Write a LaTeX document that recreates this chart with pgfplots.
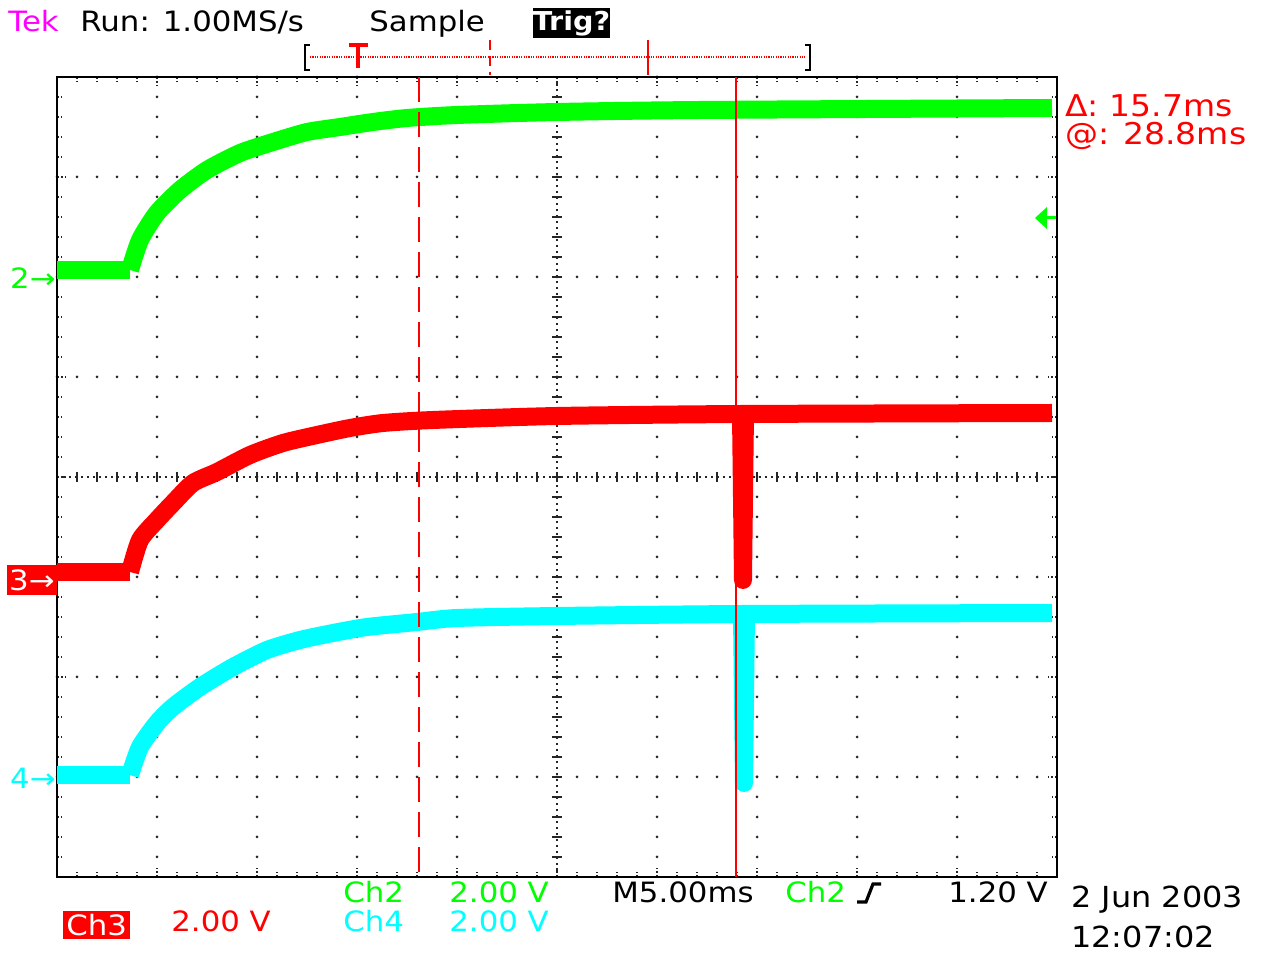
\documentclass[border=0pt]{standalone}
\usepackage{pgfplots}
\pgfplotsset{compat=1.18}
\usepackage{fontspec}
\setmainfont[FakeStretch=1.1]{DejaVu Sans}
\definecolor{scgreen}{RGB}{0,255,0}
\definecolor{scred}{RGB}{255,0,0}
\definecolor{sccyan}{RGB}{0,255,255}
\definecolor{scmag}{RGB}{255,0,255}
\begin{document}
\begin{tikzpicture}[font=\fontsize{14}{16}\selectfont]
\useasboundingbox (0,0) rectangle (633pt,477pt);
% graticule (behind the traces)
\begin{scope}[shift={(0,477pt)}, x=0.5pt, y=-0.5pt]
 \foreach \i in {1,2,3,4,6,7,8,9} {
   \draw[black!85, line width=1.5pt, line cap=round, dash pattern=on 0pt off 10pt] (57+100*\i,77) -- (57+100*\i,877); }
 \foreach \j in {1,2,3,5,6,7} {
   \draw[black!85, line width=1.5pt, line cap=round, dash pattern=on 0pt off 10pt] (57,77+100*\j) -- (1057,77+100*\j); }
 \draw[black!85, line width=1pt, dash pattern=on 1pt off 2pt] (57,477) -- (1057,477);
 \draw[black!85, line width=1pt, dash pattern=on 1pt off 2pt] (557,77) -- (557,877);
 \foreach \i in {1,...,49} { \draw[black!85, line width=1pt] (57+20*\i,472) -- (57+20*\i,482); }
 \foreach \i in {1,...,39} { \draw[black!85, line width=1pt] (552,77+20*\i) -- (562,77+20*\i); }
\end{scope}
\begin{axis}[at={(28.5pt,38.5pt)}, anchor=south west, scale only axis,
  width=500pt, height=400pt,
  xmin=0, xmax=10, ymin=0, ymax=8,
  xtick={0,...,10}, ytick={0,...,8}, xticklabels={}, yticklabels={},
  minor x tick num=4, minor y tick num=4,
  tick align=inside, major tick length=4.5pt, minor tick length=2.5pt,
  tick style={black!85, line width=1.1pt, dash pattern=on 1pt off 1pt},
  axis line style={black, line width=1.4pt, solid},
  every axis plot/.append style={line width=9pt, line join=round, line cap=butt}]
% Ch2 (green)
\addplot[scgreen] coordinates {(0,6.07) (0.73,6.07)};
\addplot[scgreen, smooth, tension=0.4] coordinates {
 (0.73,6.07) (0.83,6.37) (1.00,6.64) (1.23,6.87) (1.50,7.07)
 (1.83,7.24) (2.16,7.35) (2.50,7.45) (2.83,7.50) (3.16,7.55) (3.50,7.59)
 (4.00,7.62) (5.00,7.65) (6.43,7.67) (9.95,7.69)};
% Ch3 (red)
\addplot[scred] coordinates {(0,3.05) (0.73,3.05)};
\addplot[scred, smooth, tension=0.4] coordinates {
 (0.73,3.05) (0.83,3.37) (1.00,3.57) (1.16,3.74) (1.36,3.94)
 (1.60,4.05) (1.93,4.22) (2.26,4.34) (2.60,4.42) (2.93,4.49) (3.26,4.54)
 (3.76,4.57) (5.00,4.61) (6.84,4.63) (9.95,4.64)};
\addplot[scred] coordinates {(6.84,4.63) (6.86,2.97) (6.88,4.63)};
% Ch4 (cyan)
\addplot[sccyan] coordinates {(0,1.02) (0.73,1.02)};
\addplot[sccyan, smooth, tension=0.4] coordinates {
 (0.73,1.02) (0.83,1.30) (1.00,1.54) (1.16,1.70) (1.43,1.90)
 (1.76,2.10) (2.10,2.27) (2.43,2.37) (2.76,2.44) (3.10,2.50) (3.60,2.55)
 (4.00,2.59) (5.00,2.61) (6.85,2.63) (9.95,2.64)};
\addplot[sccyan] coordinates {(6.85,2.63) (6.87,0.94) (6.89,2.63)};
\end{axis}
\begin{scope}[shift={(0,477pt)}, x=0.5pt, y=-0.5pt]
 % cursors
 \draw[scred, line width=1pt, dash pattern=on 12.5pt off 5pt] (419,77) -- (419,877);
 \draw[scred, line width=1pt] (736,77) -- (736,877);
 % header
 \node[anchor=base west, text=scmag, inner sep=0] at (8,32) {Tek};
 \node[anchor=base west, inner sep=0] at (80,32) {Run: 1.00MS/s};
 \node[anchor=base west, inner sep=0] at (369,32) {Sample};
 \node[fill=black, text=white, inner sep=0, minimum width=38.5pt, minimum height=15pt, font=\fontsize{13}{13}\selectfont\bfseries] at (571.5,23) {Trig?};
 % record ruler
 \draw[black, line width=1.4pt] (310,45) -- (305,45) -- (305,70) -- (310,70);
 \draw[black, line width=1.4pt] (805,45) -- (810,45) -- (810,70) -- (805,70);
 \draw[scred, line width=0.6pt, dash pattern=on 0.6pt off 0.6pt] (310,57) -- (805,57);
 \draw[scred, line width=1.6pt] (349,45) -- (368,45) (358,45) -- (358,68);
 \draw[scred, line width=1pt, dash pattern=on 5pt off 3pt] (490,40) -- (490,75);
 \draw[scred, line width=1pt] (648,40) -- (648,75);
 % cursor readout
 \node[anchor=base west, text=scred, inner sep=0, font=\fontsize{15}{17}\selectfont] at (1065,117) {Δ: 15.7ms};
 \node[anchor=base west, text=scred, inner sep=0, font=\fontsize{15}{17}\selectfont] at (1065,145) {@: 28.8ms};
 % trigger level arrow
 \draw[scgreen, line width=1.5pt] (1040,218) -- (1056,218);
 \fill[scgreen] (1035,218) -- (1047,207) -- (1047,229) -- cycle;
 % channel markers
 \node[anchor=east, text=scgreen, inner sep=0] at (56,278) {2→};
 \node[anchor=east, fill=scred, text=white, inner sep=1pt, minimum height=15pt, minimum width=22pt] at (57,580) {3→};
 \node[anchor=east, text=sccyan, inner sep=0] at (56,778) {4→};
 % footer
 \node[anchor=base west, text=scgreen, inner sep=0] at (343,903) {Ch2};
 \node[anchor=base west, text=scgreen, inner sep=0] at (449,903) {2.00 V};
 \node[anchor=base west, inner sep=0] at (612,903) {M5.00ms};
 \node[anchor=base west, text=scgreen, inner sep=0] at (785,903) {Ch2};
 \draw[black, line width=1.6pt] (857,902) -- (866,902) -- (873,884) -- (881,884);
 \node[anchor=base west, inner sep=0] at (948,903) {1.20 V};
 \node[anchor=west, fill=scred, text=white, inner sep=1.5pt] at (63,925) {Ch3};
 \node[anchor=base west, text=scred, inner sep=0] at (171,932) {2.00 V};
 \node[anchor=base west, text=sccyan, inner sep=0] at (343,932) {Ch4};
 \node[anchor=base west, text=sccyan, inner sep=0] at (449,932) {2.00 V};
 \node[anchor=base west, inner sep=0, font=\fontsize{14.5}{16}\selectfont] at (1071,908) {2 Jun 2003};
 \node[anchor=base west, inner sep=0, font=\fontsize{14.5}{16}\selectfont] at (1071,948) {12:07:02};
\end{scope}
\end{tikzpicture}
\end{document}
